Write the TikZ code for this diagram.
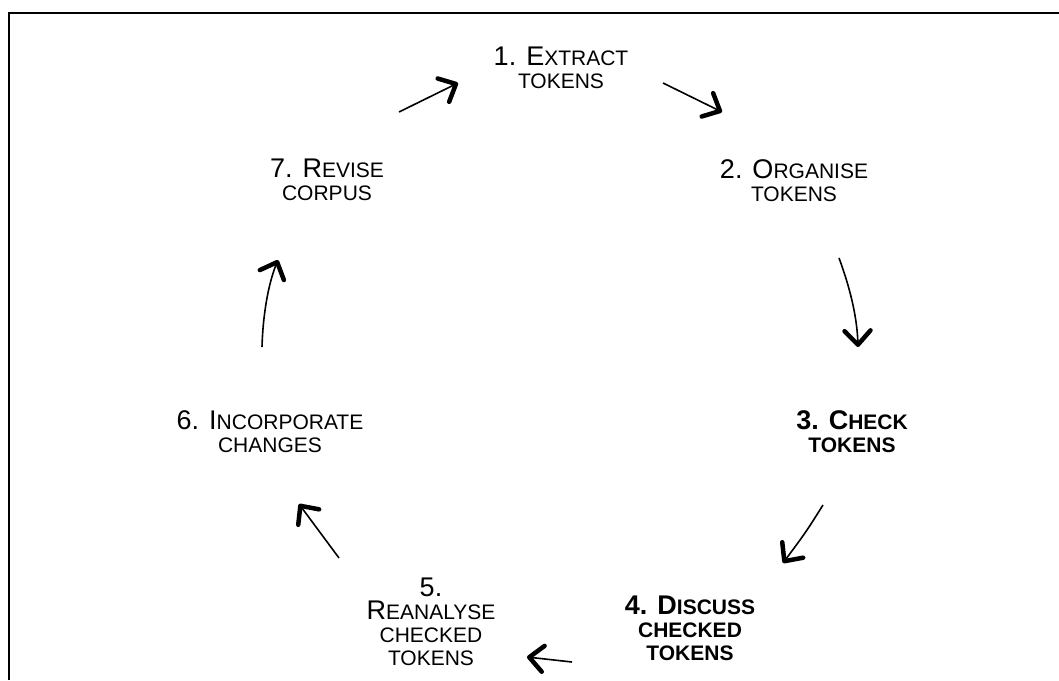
\documentclass[tikz,border=0pt]{standalone}
\usepackage{fontspec}
\setmainfont{Liberation Sans}
\usetikzlibrary{arrows.meta}
% small capitals made by hand
\newcommand{\smc}[1]{{\fontsize{21}{23}\selectfont #1}}

\begin{document}
\begin{tikzpicture}[x=1pt,y=-1pt,
  stage/.style={anchor=base, align=center, inner sep=0pt, font=\fontsize{27}{23}\selectfont},
  keystage/.style={stage, font=\fontsize{27}{23}\selectfont\bfseries},
  flow/.style={line width=1.6pt, -{Straight Barb[length=14pt,width=26pt,line width=4.5pt,round]}}]
\useasboundingbox (0,0) rectangle (1059,680);

% Frame (cut at right and bottom)
\draw[line width=2pt] (9,680) -- (9,13) -- (1059,13);

% The seven stages (placed at the baseline of their last line)
\node[stage] (t1) at (561,88) {1. E\smc{XTRACT}\\\smc{TOKENS}};
\node[stage] (t2) at (794,201) {2. O\smc{RGANISE}\\\smc{TOKENS}};
\node[keystage] (t3) at (852,452) {3. C\smc{HECK}\\\smc{TOKENS}};
\node[keystage] (t4) at (690,660) {4. D\smc{ISCUSS}\\\smc{CHECKED}\\\smc{TOKENS}};
\node[stage] (t5) at (431,665) {5.\\R\smc{EANALYSE}\\\smc{CHECKED}\\\smc{TOKENS}};
\node[stage] (t6) at (270,452) {6. I\smc{NCORPORATE}\\\smc{CHANGES}};
\node[stage] (t7) at (327,200) {7. R\smc{EVISE}\\\smc{CORPUS}};

% Ends of the arrows between stages
\coordinate (a12) at (663,83);  \coordinate (b12) at (722,112);
\coordinate (a23) at (839,258); \coordinate (b23) at (858,347);
\coordinate (a34) at (823,505); \coordinate (b34) at (783,563);
\coordinate (a45) at (572,662); \coordinate (b45) at (527,657);
\coordinate (a56) at (339,558); \coordinate (b56) at (299,504);
\coordinate (a67) at (262,347); \coordinate (b67) at (278,260);
\coordinate (a71) at (399,112); \coordinate (b71) at (458,83);

% Arrows round the cycle
\draw[flow] (a12) -- (b12);
\draw[flow] (a23) .. controls (849,285) and (857,315) .. (b23);
\draw[flow] (a34) .. controls (806,532) .. (b34);
\draw[flow] (a45) -- (b45);
\draw[flow] (a56) -- (b56);
\draw[flow] (a67) .. controls (263,312) and (269,282) .. (b67);
\draw[flow] (a71) -- (b71);
\end{tikzpicture}
\end{document}
